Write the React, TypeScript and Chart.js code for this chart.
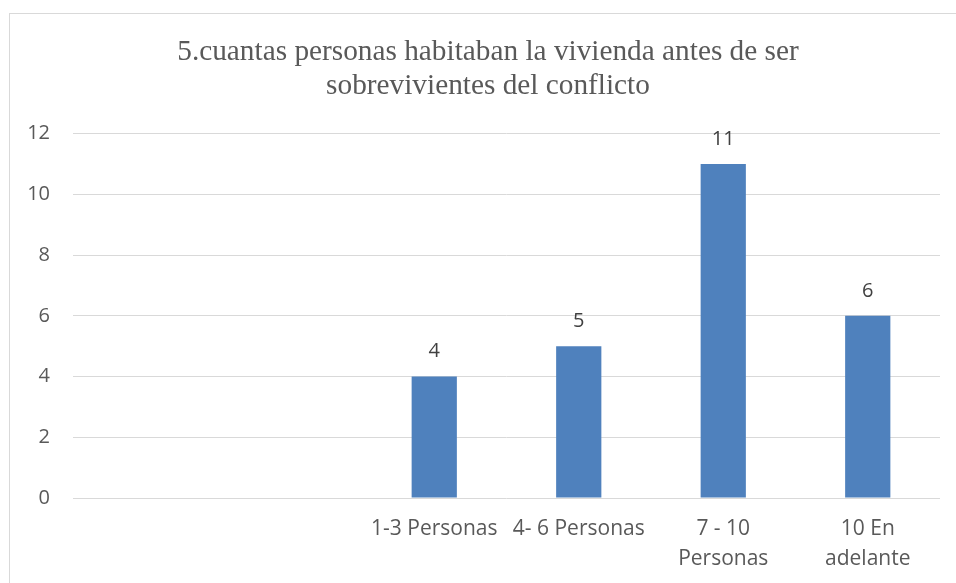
import React, { useEffect, useRef } from "react";
import { Chart, registerables } from "chart.js";

Chart.register(...registerables);

const titleLines = ["5.cuantas personas habitaban la vivienda antes de ser", "sobrevivientes del conflicto"];
const categories: (string | string[])[] = ["", "", "1-3 Personas", "4- 6 Personas", ["7 - 10", "Personas"], ["10 En", "adelante"]];
const values: (number | null)[] = [null, null, 4, 5, 11, 6];
const yMin = 0;
const yMax = 12;
const yStep = 2;

const TEXT = "#595959";
const GRID = "#D9D9D9";
const BAR = "#4F81BD";
const SANS = "'Open Sans', 'Noto Sans', sans-serif";

const borderPlugin = {
  id: "outerBorder",
  beforeDraw(chart: any) {
    const ctx = chart.ctx;
    ctx.save();
    ctx.fillStyle = "#ffffff";
    ctx.fillRect(0, 0, chart.width, chart.height);
    ctx.strokeStyle = GRID;
    ctx.lineWidth = 1;
    ctx.strokeRect(9.5, 13.5, chart.width, chart.height);
    ctx.restore();
  },
};

// The chart frame starts at x=9 and runs past the right edge, so the title is centred on that frame.
const titleShiftPlugin = {
  id: "titleShift",
  afterLayout(chart: any) {
    if (chart.titleBlock) {
      chart.titleBlock.left = 36;
      chart.titleBlock.right = 940;
    }
  },
};

const labelPlugin = {
  id: "valueLabels",
  afterDatasetsDraw(chart: any) {
    const ctx = chart.ctx;
    const meta = chart.getDatasetMeta(0);
    ctx.save();
    ctx.fillStyle = "#404040";
    ctx.font = `20px ${SANS}`;
    ctx.textAlign = "center";
    ctx.textBaseline = "middle";
    meta.data.forEach((el: any, i: number) => {
      const v = values[i];
      if (v === null || v === undefined) return;
      ctx.fillText(String(v), el.x, el.y - 25);
    });
    ctx.restore();
  },
};

export default function App() {
  const ref = useRef<HTMLCanvasElement>(null);
  useEffect(() => {
    document.body.style.margin = "0";
    const chart = new Chart(ref.current!, {
      type: "bar",
      data: {
        labels: categories,
        datasets: [
          {
            data: values,
            backgroundColor: BAR,
            borderWidth: 0,
            categoryPercentage: 1,
            barPercentage: 0.313,
          },
        ],
      },
      options: {
        responsive: false,
        animation: false,
        layout: { padding: { top: 13, left: 0, right: 16, bottom: 9 } },
        plugins: {
          legend: { display: false },
          tooltip: { enabled: false },
          title: {
            display: true,
            text: titleLines,
            color: TEXT,
            font: { family: "'Liberation Serif', 'Times New Roman', serif", size: 29.3, weight: "normal", lineHeight: 1.16 },
            padding: { top: 22, bottom: 30.7 },
          },
        },
        scales: {
          x: {
            grid: { display: false, drawTicks: false },
            border: { display: false },
            ticks: {
              color: TEXT,
              font: { family: SANS, size: 21, lineHeight: 1.43 },
              padding: 16,
              maxRotation: 0,
              autoSkip: false,
            },
            afterFit(scale: any) {
              scale.height = 76;
            },
          },
          y: {
            min: yMin,
            max: yMax,
            grid: { color: GRID, drawTicks: false },
            border: { display: false },
            ticks: {
              stepSize: yStep,
              color: TEXT,
              font: { family: SANS, size: 20 },
              padding: 23,
            },
            afterFit(scale: any) {
              scale.width = 73;
            },
          },
        },
      },
      plugins: [borderPlugin, titleShiftPlugin, labelPlugin],
    });
    return () => chart.destroy();
  }, []);
  return <canvas ref={ref} width={956} height={583} style={{ display: "block" }} />;
}
